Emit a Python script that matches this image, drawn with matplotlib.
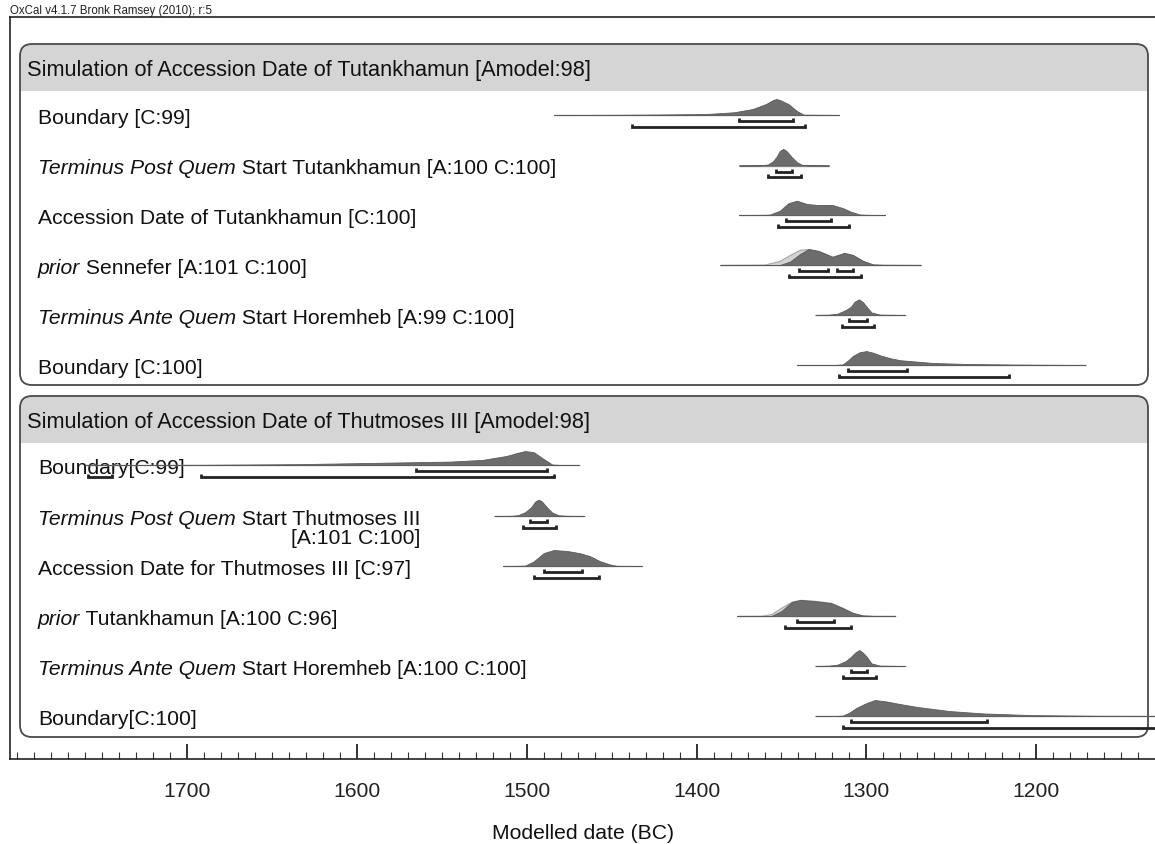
import matplotlib
matplotlib.use("Agg")
import matplotlib.pyplot as plt
from matplotlib.patches import FancyBboxPatch, Rectangle
from matplotlib.ticker import MultipleLocator, FixedLocator
import numpy as np

plt.rcParams['font.family'] = ['Liberation Sans', 'DejaVu Sans']

# ---------------- data ----------------
header_text = "OxCal v4.1.7 Bronk Ramsey (2010); r:5"
x_label = "Modelled date (BC)"
tick_years = [1700, 1600, 1500, 1400, 1300, 1200]
tick_labels = ["1700", "1600", "1500", "1400", "1300", "1200"]

group_titles = ["Simulation of Accession Date of Tutankhamun [Amodel:98]",
                "Simulation of Accession Date of Thutmoses III [Amodel:98]"]

# group 1 : Tutankhamun
g1_labels = [
    [("Boundary [C:99]", "normal")],
    [("Terminus Post Quem", "italic"), (" Start Tutankhamun [A:100 C:100]", "normal")],
    [("Accession Date of Tutankhamun [C:100]", "normal")],
    [("prior", "italic"), (" Sennefer [A:101 C:100]", "normal")],
    [("Terminus Ante Quem", "italic"), (" Start Horemheb [A:99 C:100]", "normal")],
    [("Boundary [C:100]", "normal")],
]
g1_years = [
    [1484, 1450, 1433, 1410, 1394, 1378, 1367, 1359, 1355, 1353, 1351, 1346, 1341, 1337, 1316],
    [1375, 1362, 1358, 1355, 1353, 1351, 1349, 1347, 1344, 1341, 1338, 1334, 1322],
    [1375, 1360, 1357, 1351, 1346, 1341, 1335, 1329, 1320, 1314, 1309, 1304, 1300, 1289],
    [1386, 1360, 1351, 1345, 1339, 1334, 1328, 1320, 1313, 1308, 1302, 1296, 1290, 1268],
    [1330, 1322, 1317, 1312, 1309, 1307, 1304.4, 1302, 1300, 1297, 1292, 1277],
    [1341, 1318, 1314, 1311, 1308, 1304, 1300, 1296, 1292, 1286, 1280, 1261, 1241, 1212, 1182, 1171],
]
g1_prob = [
    [0, 0.01, 0.02, 0.04, 0.06, 0.16, 0.35, 0.65, 0.88, 0.94, 0.88, 0.65, 0.24, 0.02, 0],
    [0, 0.01, 0.06, 0.25, 0.5, 0.85, 0.98, 0.85, 0.5, 0.2, 0.04, 0.01, 0],
    [0, 0.01, 0.02, 0.25, 0.69, 0.84, 0.65, 0.59, 0.59, 0.41, 0.19, 0.03, 0.01, 0],
    [0, 0, 0, 0.2, 0.65, 0.94, 0.82, 0.47, 0.71, 0.59, 0.24, 0.03, 0.01, 0],
    [0, 0.02, 0.08, 0.3, 0.5, 0.78, 0.92, 0.75, 0.5, 0.15, 0.02, 0],
    [0, 0.005, 0.03, 0.25, 0.53, 0.75, 0.82, 0.72, 0.57, 0.4, 0.28, 0.12, 0.06, 0.025, 0.005, 0],
]
g1_prior = [None, None, None,
            [0, 0.02, 0.25, 0.6, 0.9, 0.94, 0.82, 0.5, 0.7, 0.59, 0.24, 0.03, 0.01, 0],
            None, None]
g1_r68 = [[(1375, 1343)], [(1353, 1344)], [(1347.5, 1320.7)],
          [(1339.7, 1322.5), (1317.5, 1307.7)], [(1310, 1299.8)], [(1310.7, 1276.3)]]
g1_r95 = [[(1438, 1336)], [(1358, 1338.5)], [(1352, 1310)],
          [(1345.4, 1303.2)], [(1314.5, 1295.3)], [(1316, 1216)]]

# group 2 : Thutmoses III
g2_labels = [
    [("Boundary[C:99]", "normal")],
    [("Terminus Post Quem", "italic"), (" Start Thutmoses III", "normal")],
    [("Accession Date for Thutmoses III [C:97]", "normal")],
    [("prior", "italic"), (" Tutankhamun [A:100 C:96]", "normal")],
    [("Terminus Ante Quem", "italic"), (" Start Horemheb [A:100 C:100]", "normal")],
    [("Boundary[C:100]", "normal")],
]
g2_second_line = [None, "[A:101 C:100]", None, None, None, None]
g2_years = [
    [1760, 1720, 1692, 1634, 1575, 1545, 1526, 1512, 1506, 1501, 1496, 1490, 1485, 1480, 1469],
    [1519, 1509, 1505, 1501, 1497.5, 1495, 1493, 1491, 1488, 1485, 1481, 1476, 1466],
    [1514, 1505, 1501, 1496, 1490, 1484, 1476, 1469, 1463, 1457, 1451, 1447, 1432],
    [1376, 1362, 1356, 1350, 1344, 1339, 1331, 1321, 1314, 1308, 1302, 1296, 1283],
    [1330, 1322, 1317, 1312, 1309, 1306.5, 1304.2, 1302, 1299.5, 1297, 1292, 1277],
    [1330, 1318, 1314, 1310, 1306, 1300, 1295, 1288, 1280, 1270, 1251, 1231, 1202, 1162, 1120],
]
g2_prob = [
    [0, 0.005, 0.01, 0.05, 0.15, 0.2, 0.3, 0.53, 0.7, 0.82, 0.76, 0.35, 0.03, 0, 0],
    [0, 0.01, 0.05, 0.22, 0.5, 0.85, 0.96, 0.85, 0.5, 0.2, 0.04, 0.01, 0],
    [0, 0.01, 0.02, 0.26, 0.76, 0.94, 0.88, 0.76, 0.59, 0.29, 0.09, 0.01, 0],
    [0, 0, 0, 0.29, 0.82, 0.94, 0.88, 0.76, 0.47, 0.18, 0.03, 0.005, 0],
    [0, 0.02, 0.08, 0.3, 0.55, 0.8, 0.94, 0.78, 0.5, 0.15, 0.02, 0],
    [0, 0.005, 0.02, 0.2, 0.47, 0.76, 0.94, 0.85, 0.7, 0.53, 0.29, 0.15, 0.05, 0.012, 0.005],
]
g2_prior = [None, None, None,
            [0, 0.01, 0.12, 0.5, 0.85, 0.95, 0.9, 0.78, 0.48, 0.18, 0.03, 0.005, 0],
            None, None]
g2_r68 = [[(1565, 1488)], [(1498, 1488)], [(1490, 1467.6)],
          [(1341, 1319)], [(1309.2, 1299.5)], [(1309.2, 1228.8)]]
g2_r95 = [[(1758, 1744), (1692, 1484)], [(1502.4, 1483)], [(1495.7, 1457.3)],
          [(1348, 1309)], [(1314, 1294.3)], [(1313.8, 1100)]]

# ---------------- layout (pixels) ----------------
W, H = 1155, 845
FS = 15.2
FS_TITLE = 15.7
ROW_H = 17.0
BOX_X0, BOX_X1 = 20, 1148
boxes = [dict(top=45, head=92, bottom=386, rows=[116, 166.5, 216, 266, 316, 366]),
         dict(top=397, head=444, bottom=738, rows=[466, 517, 567, 617, 667, 717])]

POST_COL = '#6c6c6c'
PRIOR_COL = '#d2d2d2'
LINE_COL = '#9c9c9c'
BR_COL = '#222222'
EDGE_COL = '#4a4a4a'

fig = plt.figure(figsize=(W / 100, H / 100), dpi=100, facecolor='white')

bg = fig.add_axes([0, 0, 1, 1], zorder=0)
bg.set_xlim(0, W)
bg.set_ylim(H, 0)
bg.axis('off')

ax = fig.add_axes([10 / W, (H - 760) / H, (W - 10) / W, (760 - 18) / H], zorder=1)
ax.set_xlim(1804.2, 1130.1)
ax.set_ylim(760, 18)
ax.patch.set_visible(False)
ax.spines['right'].set_visible(False)
for s in ['top', 'left', 'bottom']:
    ax.spines[s].set_linewidth(1.2)
    ax.spines[s].set_color('#222222')
ax.yaxis.set_visible(False)
ax.xaxis.set_major_locator(FixedLocator(tick_years))
ax.set_xticklabels(tick_labels)
ax.xaxis.set_minor_locator(MultipleLocator(10))
ax.tick_params(axis='x', which='major', direction='in', length=11, width=1.3,
               pad=15.5, labelsize=FS, colors='#222222')
ax.tick_params(axis='x', which='minor', direction='in', length=5, width=0.8, colors='#333333')
ax.set_xlabel(x_label, fontsize=FS, labelpad=17, color='#111111')

bg.text(10, 14, header_text, fontsize=8.3, ha='left', va='baseline', color='#222222')

groups = [
    (g1_labels, [None] * 6, g1_years, g1_prob, g1_prior, g1_r68, g1_r95),
    (g2_labels, g2_second_line, g2_years, g2_prob, g2_prior, g2_r68, g2_r95),
]

for gi, (box, title, grp) in enumerate(zip(boxes, group_titles, groups)):
    labels, second, years_l, prob_l, prior_l, r68_l, r95_l = grp
    rs = 12
    body = FancyBboxPatch((BOX_X0, box['top']), BOX_X1 - BOX_X0, box['bottom'] - box['top'],
                          boxstyle=f"round,pad=0,rounding_size={rs}",
                          facecolor='white', edgecolor='none', zorder=1)
    bg.add_patch(body)
    head = Rectangle((BOX_X0 - 2, box['top'] - 2), BOX_X1 - BOX_X0 + 4, box['head'] - box['top'] + 2,
                     facecolor='#d5d5d5', edgecolor='none', zorder=2)
    bg.add_patch(head)
    head.set_clip_path(body)
    outline = FancyBboxPatch((BOX_X0, box['top']), BOX_X1 - BOX_X0, box['bottom'] - box['top'],
                             boxstyle=f"round,pad=0,rounding_size={rs}",
                             facecolor='none', edgecolor=EDGE_COL, linewidth=1.3, zorder=3)
    bg.add_patch(outline)
    bg.text(27, (box['top'] + box['head']) / 2 + 7.5, title, fontsize=FS_TITLE, ha='left',
            va='baseline', color='#111111', zorder=4)

    for ri, base in enumerate(box['rows']):
        prev = None
        for seg, style in labels[ri]:
            if prev is None:
                prev = bg.text(38, base + 8, seg, fontsize=FS, style=style, ha='left',
                               va='baseline', color='#111111', zorder=4)
            else:
                prev = bg.annotate(seg, xy=(1, 0), xycoords=prev, fontsize=FS, style=style,
                                   ha='left', va='bottom', color='#111111', zorder=4)
        if second[ri]:
            bg.annotate(second[ri], xy=(1, 0), xycoords=prev, fontsize=FS, ha='right',
                        va='top', color='#111111', zorder=4)

        yrs = np.array(years_l[ri], dtype=float)
        pr = np.array(prob_l[ri], dtype=float)
        ax.plot([yrs[0], yrs[-1]], [base, base], color=LINE_COL, lw=1.0, zorder=2,
                solid_capstyle='butt')
        if prior_l[ri] is not None:
            pp = np.array(prior_l[ri], dtype=float)
            ax.fill_between(yrs, base, base - pp * ROW_H, facecolor=PRIOR_COL,
                            edgecolor='#a8a8a8', linewidth=0.8, zorder=3)
        ax.fill_between(yrs, base, base - pr * ROW_H, facecolor=POST_COL,
                        edgecolor='#5a5a5a', linewidth=0.6, zorder=4)
        for (a, b), off in [(r, 6) for r in r68_l[ri]] + [(r, 11.5) for r in r95_l[ri]]:
            yb = base + off
            ax.plot([a, a, b, b], [yb - 3, yb, yb, yb - 3], color=BR_COL, lw=2.0,
                    solid_joinstyle='miter', solid_capstyle='butt', zorder=5)

fig.savefig('out.png', dpi=100, facecolor='white')
